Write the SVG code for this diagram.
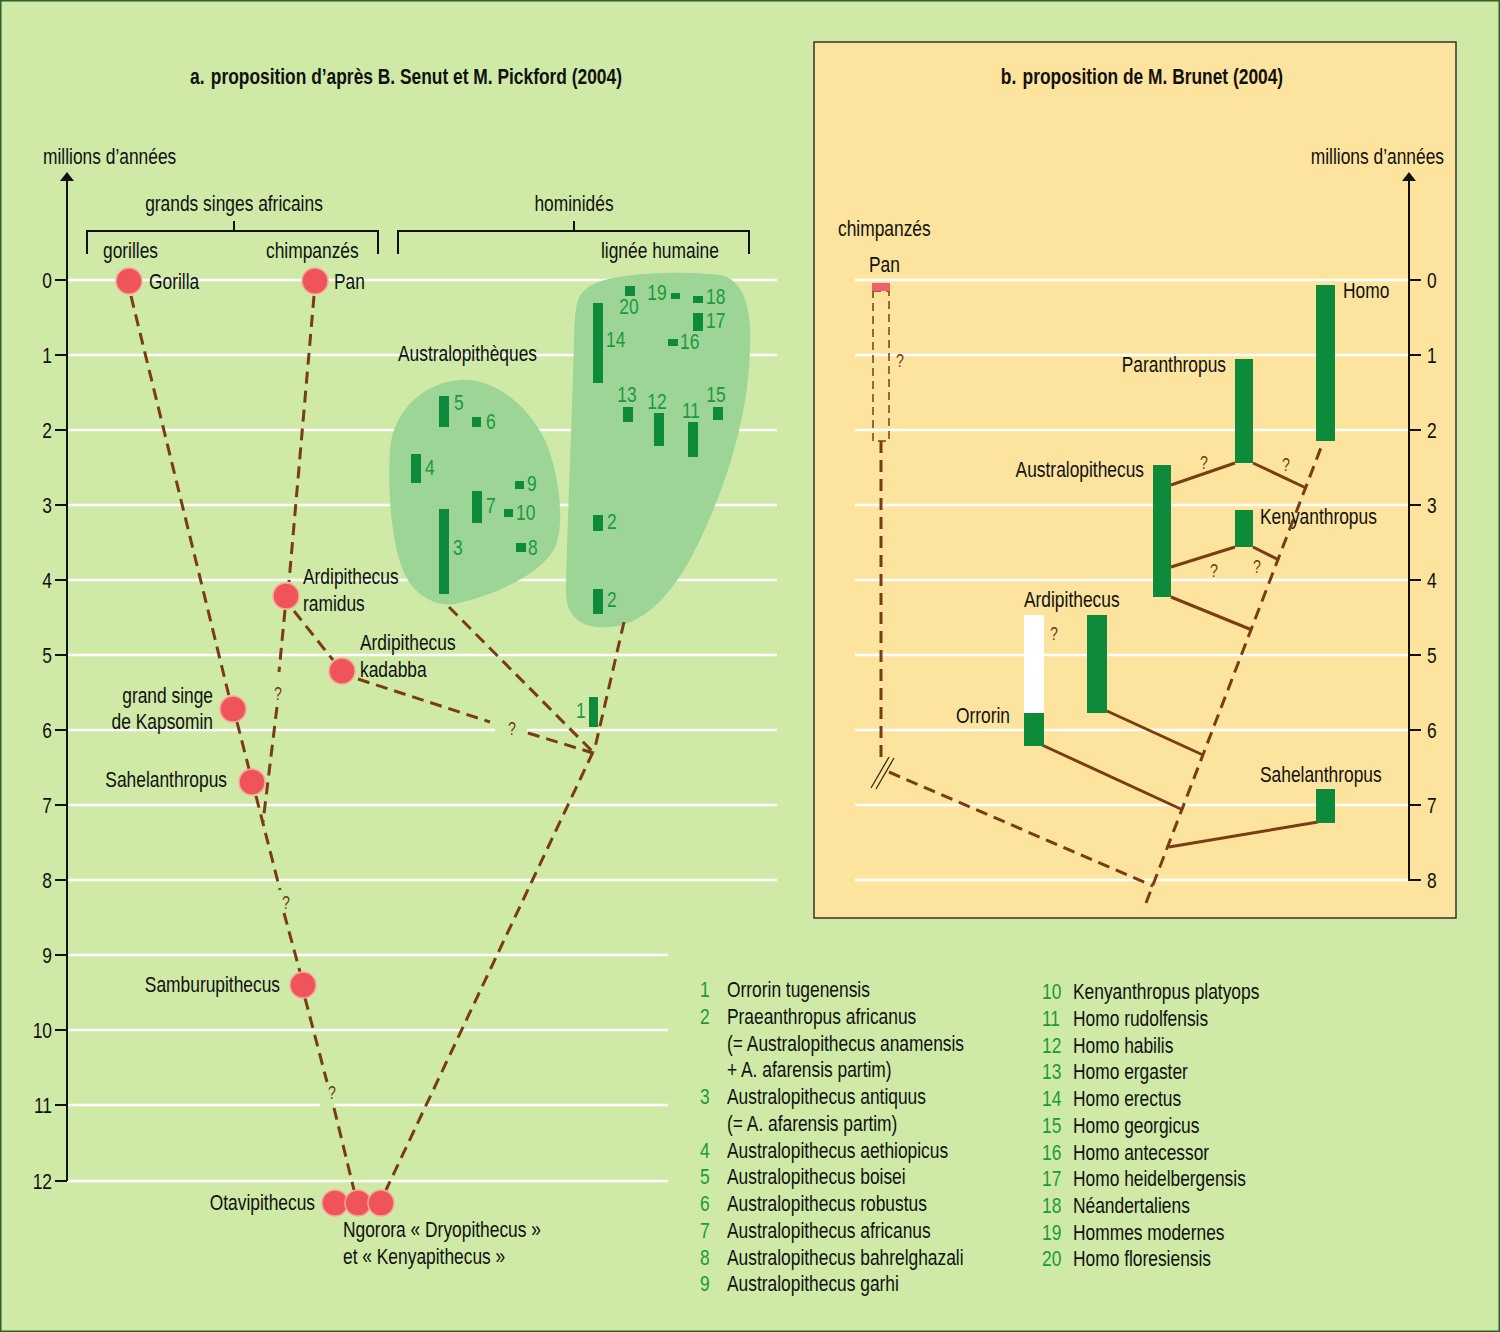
<svg xmlns="http://www.w3.org/2000/svg" width="1500" height="1332" viewBox="0 0 1500 1332">
<style>
text{font-family:"Liberation Sans Narrow","Liberation Sans",Arial,sans-serif;font-size:22px;fill:#111;transform-box:fill-box;transform-origin:0% 100%;transform:scaleX(0.79);}
.b{font-weight:bold;}
.r{text-anchor:end;transform-origin:100% 100%;}
.m{text-anchor:middle;transform-origin:50% 100%;}
.g{fill:#1a9a3c;}
.q{fill:#6b3a12;font-size:18px;}
.grid{stroke:#fff;stroke-width:2.5;}
.ax{stroke:#111;stroke-width:2;fill:none;}
.dash{stroke:#7a3c13;stroke-width:3;fill:none;stroke-dasharray:12 7;}
.sol{stroke:#7a3c13;stroke-width:3;fill:none;}
.bar{fill:#0e8a3b;}
.dot{fill:#f0545b;stroke:#f7a79a;stroke-width:1.5;}
.blob{fill:#9dd596;}
</style>
<rect x="0" y="0" width="1500" height="1332" fill="#cfeaa7" stroke="#2f5e2f" stroke-width="3"/>
<rect x="814" y="42" width="642" height="876" fill="#fde49e" stroke="#333" stroke-width="1.5"/>
<g id="grid">
<path class="grid" d="M67 280H777M67 355H777M67 430H777M67 505H777M67 580H777M67 655H777M67 730H495M527 730H777M67 805H777M67 880H777M67 955H668M67 1030H668M67 1105H320M334 1105H668M67 1181H668"/>
<path class="grid" d="M855 280H1408M855 355H1408M855 430H1408M855 505H1408M855 580H1408M855 655H1408M855 730H1408M855 805H1408M855 880H1408"/>
</g>
<g id="titles">
<text class="b m" x="406" y="84">a.<tspan dx="8">proposition d’après B. Senut et M. Pickford (2004)</tspan></text>
<text class="b m" x="1142" y="84">b.<tspan dx="8">proposition de M. Brunet (2004)</tspan></text>
</g>
<g id="axis-a">
<text x="43" y="164">millions d’années</text>
<path class="ax" d="M67 180V1181M55 280H67M55 355H67M55 430H67M55 505H67M55 580H67M55 655H67M55 730H67M55 805H67M55 880H67M55 955H67M55 1030H67M55 1105H67M55 1181H67"/>
<path d="M60 181L67 172L74 181Z" fill="#111"/>
<text class="r" x="52" y="288">0</text><text class="r" x="52" y="363">1</text><text class="r" x="52" y="438">2</text><text class="r" x="52" y="513">3</text><text class="r" x="52" y="588">4</text><text class="r" x="52" y="663">5</text><text class="r" x="52" y="738">6</text><text class="r" x="52" y="813">7</text><text class="r" x="52" y="888">8</text><text class="r" x="52" y="963">9</text><text class="r" x="52" y="1038">10</text><text class="r" x="52" y="1113">11</text><text class="r" x="52" y="1189">12</text>
</g>
<g id="axis-b">
<text class="r" x="1444" y="164">millions d’années</text>
<path class="ax" d="M1409 180V880H1421M1409 280H1421M1409 355H1421M1409 430H1421M1409 505H1421M1409 580H1421M1409 655H1421M1409 730H1421M1409 805H1421"/>
<path d="M1402 181L1409 172L1416 181Z" fill="#111"/>
<text x="1427" y="288">0</text><text x="1427" y="363">1</text><text x="1427" y="438">2</text><text x="1427" y="513">3</text><text x="1427" y="588">4</text><text x="1427" y="663">5</text><text x="1427" y="738">6</text><text x="1427" y="813">7</text><text x="1427" y="888">8</text>
</g>
<g id="brackets">
<path class="ax" stroke-width="1.5" d="M87 254V231H378V254M234 231V221M398 254V231H749V254M574 231V221"/>
<text class="m" x="234" y="211">grands singes africains</text>
<text class="m" x="574" y="211">hominidés</text>
<text x="103" y="258">gorilles</text>
<text x="266" y="258">chimpanzés</text>
<text x="601" y="258">lignée humaine</text>
</g>
<g id="blobs">
<path class="blob" d="M460 380C490 378 525 400 545 440C560 475 565 525 555 548C540 575 495 595 455 604C435 607 415 595 405 575C393 550 387 500 390 450C393 410 425 382 460 380Z"/>
<path class="blob" d="M585 290C600 272 680 270 720 275C745 280 752 310 750 350C748 420 725 490 695 550C670 600 640 625 610 627C580 630 565 615 566 590C567 530 572 420 574 340C575 305 577 297 585 290Z"/>
<text x="398" y="361">Australopithèques</text>
</g>
<g id="connectors">
<path class="dash" d="M131 296L229 696M237 722L249 769M256 796L280 890M284 913L300 972M314 296L289 582M285 610L279 672M277 707L263 822M294 611L333 660M358 679L490 722M528 733L593 753M449 607L593 752M624 622L594 752M593 752L386 1190M305 998L327 1082M334 1108L354 1190"/>
<rect x="873" y="291" width="16" height="150" fill="none" stroke="#7a3c13" stroke-width="1.5" stroke-dasharray="8 5"/>
<path class="dash" d="M881 441V762M889 772L1153 886M1146 903L1322 445"/>
<path stroke="#3a2a10" stroke-width="1.3" d="M871 788L889 757M876 789L894 758"/>
<path class="sol" d="M1169 847L1318 822M1042 745L1183 810M1107 711L1203 755M1171 597L1252 630M1171 567L1235 547M1253 547L1279 560M1171 485L1235 463M1253 463L1306 488"/>
</g>
<g id="questions">
<text class="q m" x="278" y="700">?</text>
<text class="q m" x="286" y="909">?</text>
<text class="q m" x="512" y="735">?</text>
<text class="q m" x="332" y="1099">?</text>
<text class="q m" x="900" y="367">?</text>
<text class="q m" x="1054" y="640">?</text>
<text class="q m" x="1204" y="469">?</text>
<text class="q m" x="1286" y="471">?</text>
<text class="q m" x="1214" y="577">?</text>
<text class="q m" x="1257" y="573">?</text>
</g>
<g id="n-gorilla"><circle class="dot" cx="129" cy="281" r="13"/><text x="149" y="289">Gorilla</text></g>
<g id="n-pan"><circle class="dot" cx="315" cy="281" r="13"/><text x="334" y="289">Pan</text></g>
<g id="n-ramidus"><circle class="dot" cx="286" cy="596" r="13"/><text x="303" y="584">Ardipithecus</text><text x="303" y="611">ramidus</text></g>
<g id="n-kadabba"><circle class="dot" cx="342" cy="671" r="13"/><text x="360" y="650">Ardipithecus</text><text x="360" y="677">kadabba</text></g>
<g id="n-kapsomin"><circle class="dot" cx="233" cy="709" r="13"/><text class="r" x="213" y="703">grand singe</text><text class="r" x="213" y="729">de Kapsomin</text></g>
<g id="n-sahel-a"><circle class="dot" cx="252" cy="782" r="13"/><text class="r" x="227" y="787">Sahelanthropus</text></g>
<g id="n-sambur"><circle class="dot" cx="303" cy="985" r="13"/><text class="r" x="280" y="992">Samburupithecus</text></g>
<g id="n-otavi"><circle class="dot" cx="335" cy="1203" r="13"/><circle class="dot" cx="358" cy="1203" r="13"/><circle class="dot" cx="381" cy="1203" r="13"/><text class="r" x="315" y="1210">Otavipithecus</text><text x="343" y="1237">Ngorora « Dryopithecus »</text><text x="343" y="1264">et « Kenyapithecus »</text></g>
<g id="species-a">
<rect class="bar" x="439" y="396" width="10" height="31"/><text class="g" x="454" y="410">5</text>
<rect class="bar" x="472" y="417" width="9" height="10"/><text class="g" x="486" y="429">6</text>
<rect class="bar" x="411" y="454" width="10" height="29"/><text class="g" x="425" y="475">4</text>
<rect class="bar" x="472" y="491" width="10" height="32"/><text class="g" x="486" y="513">7</text>
<rect class="bar" x="515" y="481" width="9" height="8"/><text class="g" x="527" y="491">9</text>
<rect class="bar" x="504" y="509" width="9" height="8"/><text class="g" x="516" y="520">10</text>
<rect class="bar" x="516" y="543" width="10" height="9"/><text class="g" x="528" y="555">8</text>
<rect class="bar" x="439" y="509" width="10" height="85"/><text class="g" x="453" y="555">3</text>
<rect class="bar" x="593" y="303" width="10" height="80"/><text class="g" x="606" y="347">14</text>
<rect class="bar" x="625" y="286" width="10" height="10"/><text class="g m" x="629" y="314">20</text>
<rect class="bar" x="671" y="293" width="9" height="6"/><text class="g m" x="657" y="300">19</text>
<rect class="bar" x="693" y="296" width="10" height="7"/><text class="g" x="706" y="304">18</text>
<rect class="bar" x="693" y="313" width="10" height="18"/><text class="g" x="706" y="328">17</text>
<rect class="bar" x="668" y="339" width="10" height="7"/><text class="g" x="680" y="349">16</text>
<rect class="bar" x="623" y="407" width="10" height="15"/><text class="g m" x="627" y="402">13</text>
<rect class="bar" x="654" y="413" width="10" height="33"/><text class="g m" x="657" y="409">12</text>
<rect class="bar" x="688" y="422" width="10" height="35"/><text class="g m" x="691" y="418">11</text>
<rect class="bar" x="713" y="407" width="10" height="13"/><text class="g m" x="716" y="402">15</text>
<rect class="bar" x="593" y="515" width="10" height="16"/><text class="g" x="607" y="529">2</text>
<rect class="bar" x="593" y="589" width="10" height="25"/><text class="g" x="607" y="607">2</text>
<rect class="bar" x="589" y="697" width="9" height="30"/><text class="g" x="576" y="718">1</text>
</g>
<g id="n-pan-b"><text x="838" y="236">chimpanzés</text><text x="869" y="272">Pan</text><rect x="872" y="283" width="18" height="8" fill="#f0606a"/></g>
<g id="n-homo"><rect class="bar" x="1316" y="285" width="19" height="156"/><text x="1343" y="298">Homo</text></g>
<g id="n-paran"><rect class="bar" x="1235" y="359" width="18" height="104"/><text class="r" x="1226" y="372">Paranthropus</text></g>
<g id="n-austral"><rect class="bar" x="1153" y="465" width="18" height="132"/><text class="r" x="1144" y="477">Australopithecus</text></g>
<g id="n-kenyan"><rect class="bar" x="1235" y="510" width="18" height="37"/><text x="1260" y="524">Kenyanthropus</text></g>
<g id="n-ardi"><rect class="bar" x="1087" y="615" width="20" height="98"/><text x="1024" y="607">Ardipithecus</text></g>
<g id="n-orrorin"><rect x="1024" y="615" width="20" height="98" fill="#fff"/><rect class="bar" x="1024" y="713" width="20" height="33"/><text class="r" x="1010" y="723">Orrorin</text></g>
<g id="n-sahel-b"><rect class="bar" x="1316" y="789" width="19" height="34"/><text x="1260" y="782">Sahelanthropus</text></g>
<g id="legend">
<text class="g" x="700" y="997">1</text><text x="727" y="997">Orrorin tugenensis</text>
<text class="g" x="700" y="1024">2</text><text x="727" y="1024">Praeanthropus africanus</text>
<text x="727" y="1051">(= Australopithecus anamensis</text>
<text x="727" y="1077">+ A. afarensis partim)</text>
<text class="g" x="700" y="1104">3</text><text x="727" y="1104">Australopithecus antiquus</text>
<text x="727" y="1131">(= A. afarensis partim)</text>
<text class="g" x="700" y="1158">4</text><text x="727" y="1158">Australopithecus aethiopicus</text>
<text class="g" x="700" y="1184">5</text><text x="727" y="1184">Australopithecus boisei</text>
<text class="g" x="700" y="1211">6</text><text x="727" y="1211">Australopithecus robustus</text>
<text class="g" x="700" y="1238">7</text><text x="727" y="1238">Australopithecus africanus</text>
<text class="g" x="700" y="1265">8</text><text x="727" y="1265">Australopithecus bahrelghazali</text>
<text class="g" x="700" y="1291">9</text><text x="727" y="1291">Australopithecus garhi</text>
<text class="g" x="1042" y="999">10</text><text x="1073" y="999">Kenyanthropus platyops</text>
<text class="g" x="1042" y="1026">11</text><text x="1073" y="1026">Homo rudolfensis</text>
<text class="g" x="1042" y="1053">12</text><text x="1073" y="1053">Homo habilis</text>
<text class="g" x="1042" y="1079">13</text><text x="1073" y="1079">Homo ergaster</text>
<text class="g" x="1042" y="1106">14</text><text x="1073" y="1106">Homo erectus</text>
<text class="g" x="1042" y="1133">15</text><text x="1073" y="1133">Homo georgicus</text>
<text class="g" x="1042" y="1160">16</text><text x="1073" y="1160">Homo antecessor</text>
<text class="g" x="1042" y="1186">17</text><text x="1073" y="1186">Homo heidelbergensis</text>
<text class="g" x="1042" y="1213">18</text><text x="1073" y="1213">Néandertaliens</text>
<text class="g" x="1042" y="1240">19</text><text x="1073" y="1240">Hommes modernes</text>
<text class="g" x="1042" y="1266">20</text><text x="1073" y="1266">Homo floresiensis</text>
</g>
</svg>
